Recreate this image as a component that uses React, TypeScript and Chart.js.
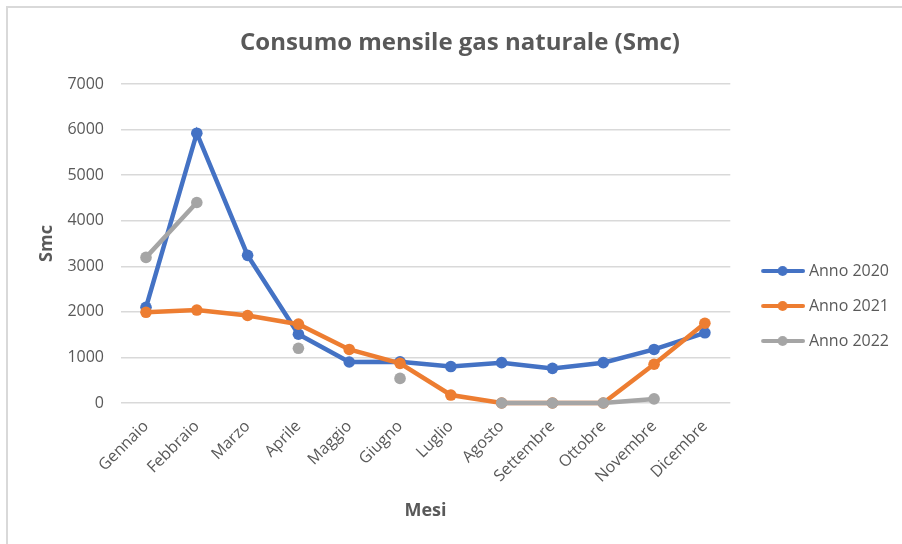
import React, { useEffect, useRef } from "react";
import { Chart, registerables } from "chart.js";

Chart.register(...registerables);

const months = ["Gennaio", "Febbraio", "Marzo", "Aprile", "Maggio", "Giugno", "Luglio", "Agosto", "Settembre", "Ottobre", "Novembre", "Dicembre"];
const anno2020 = [2100, 5920, 3240, 1510, 900, 905, 800, 885, 760, 885, 1175, 1540];
const anno2021 = [1990, 2040, 1920, 1730, 1175, 870, 175, 0, 0, 0, 850, 1750];
const anno2022: (number | null)[] = [3195, 4400, null, 1200, null, 540, null, 0, 0, 0, 90, null];
const seriesNames = ["Anno 2020", "Anno 2021", "Anno 2022"];
const seriesColors = ["#4472C4", "#ED7D31", "#A5A5A5"];
const yTicks = [0, 1000, 2000, 3000, 4000, 5000, 6000, 7000];

const FONT = "'Open Sans', 'DejaVu Sans', sans-serif";
const TEXT = "#595959";
const PAD_LEFT = 13;

function legendSample(color: string): HTMLCanvasElement {
  const c = document.createElement("canvas");
  c.width = 60;
  c.height = 14;
  const ctx = c.getContext("2d")!;
  ctx.strokeStyle = color;
  ctx.lineWidth = 4;
  ctx.lineCap = "round";
  ctx.beginPath();
  ctx.moveTo(18, 7);
  ctx.lineTo(58, 7);
  ctx.stroke();
  ctx.fillStyle = color;
  ctx.beginPath();
  ctx.arc(37.5, 7, 5, 0, Math.PI * 2);
  ctx.fill();
  return c;
}

export default function App() {
  const ref = useRef<HTMLCanvasElement>(null);
  useEffect(() => {
    if (!ref.current) return;
    const series = [anno2020, anno2021, anno2022];
    const samples = seriesColors.map(legendSample);
    const chart = new Chart(ref.current, {
      type: "line",
      data: {
        labels: months,
        datasets: series.map((d, i) => ({
          label: seriesNames[i],
          data: d,
          borderColor: seriesColors[i],
          backgroundColor: seriesColors[i],
          borderWidth: 4.5,
          pointRadius: 5.8,
          pointBorderWidth: 0,
          pointBackgroundColor: seriesColors[i],
          tension: 0,
          spanGaps: false,
          clip: false,
          order: 3 - i,
        })),
      },
      options: {
        animation: false,
        responsive: false,
        devicePixelRatio: 1,
        layout: { padding: { left: PAD_LEFT, right: 3, top: 0, bottom: 10 } },
        plugins: {
          tooltip: { enabled: false },
          title: {
            display: true,
            text: "Consumo mensile gas naturale (Smc)",
            color: TEXT,
            font: { family: FONT, size: 24, weight: "bold" },
            padding: { top: 20.6, bottom: 26.6 },
          },
          legend: {
            position: "right",
            title: {
              display: true,
              text: " ",
              font: { family: FONT, size: 10 },
              padding: { top: 58, bottom: 0 },
            },
            labels: {
              usePointStyle: true,
              pointStyleWidth: 51.6,
              padding: 19,
              color: TEXT,
              font: { family: FONT, size: 16 },
              generateLabels: () =>
                seriesNames.map((n, i) => ({
                  text: n,
                  pointStyle: samples[i],
                  fillStyle: seriesColors[i],
                  strokeStyle: seriesColors[i],
                  lineWidth: 0,
                  hidden: false,
                  datasetIndex: i,
                  fontColor: TEXT,
                })),
            },
          },
        },
        scales: {
          x: {
            offset: true,
            grid: { display: false, offset: true },
            border: { display: false },
            ticks: {
              color: TEXT,
              font: { family: FONT, size: 16 },
              minRotation: 45,
              maxRotation: 45,
              padding: 6,
            },
            title: {
              display: true,
              text: "Mesi",
              color: TEXT,
              font: { family: FONT, size: 18, weight: "bold" },
              padding: { top: 0, bottom: 12 },
            },
            afterFit: (s: any) => {
              s.height = 536 - 10 - 395;
            },
          },
          y: {
            min: 0,
            max: 7000,
            afterBuildTicks: (s: any) => {
              s.ticks = yTicks.map((v) => ({ value: v }));
            },
            grid: { color: "#D9D9D9", lineWidth: 1.5, drawTicks: false },
            border: { display: false },
            ticks: {
              color: TEXT,
              font: { family: FONT, size: 16 },
              padding: 16.6,
              callback: (v: any) => String(v),
            },
            title: {
              display: true,
              text: "Smc",
              color: TEXT,
              font: { family: FONT, size: 18, weight: "bold" },
              padding: { top: 15.2, bottom: 0 },
            },
            afterFit: (s: any) => {
              s.width = 112.6 - PAD_LEFT;
            },
          },
        },
      },
    } as any);
    return () => chart.destroy();
  }, []);
  return (
    <div
      style={{
        position: "absolute",
        left: 6,
        top: 6,
        width: 896,
        height: 538,
        borderLeft: "2px solid #d9d9d9",
        borderTop: "2px solid #d9d9d9",
        background: "#fff",
      }}
    >
      <canvas ref={ref} width={894} height={536} style={{ display: "block", width: 894, height: 536 }} />
    </div>
  );
}
